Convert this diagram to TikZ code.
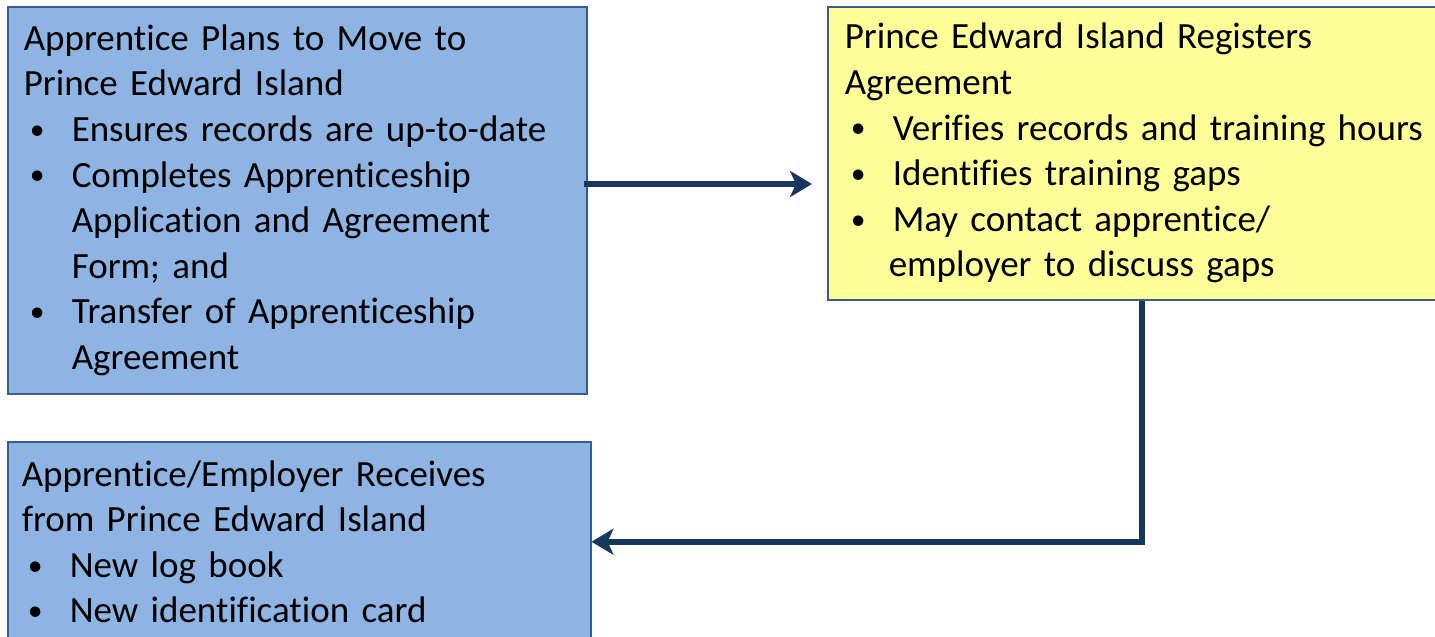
\documentclass[tikz,border=0pt]{standalone}
\usepackage{fontspec}
\usepackage{graphicx}
\setmainfont[Ligatures=NoCommon]{Carlito}
\usetikzlibrary{arrows.meta,positioning,calc}
\definecolor{boxblue}{HTML}{8EB4E3}
\definecolor{boxline}{HTML}{385D8A}
\definecolor{boxyellow}{HTML}{FFFF99}
\definecolor{flowblue}{HTML}{17375E}
\newcommand{\bitem}[1]{\makebox[24pt][l]{\hspace{3pt}\raisebox{1.1pt}{\scalebox{0.8}{\textbullet}}}#1}
\newcommand{\bcont}[2][24pt]{\hspace*{#1}#2}
\tikzset{
  card/.style={draw=boxline, line width=0.75pt, anchor=north west, align=left, inner xsep=8pt, font=\fontsize{18.5}{22.8}\selectfont},
  bluecard/.style={card, fill=boxblue},
  yellowcard/.style={card, fill=boxyellow},
  flow/.style={-{Stealth[length=11pt,width=13pt,inset=3pt]}, line width=2.8pt, flowblue}
}
\begin{document}
\begin{tikzpicture}[x=0.5pt,y=-0.5pt]
  \useasboundingbox (0,0) rectangle (1435,637);
  \clip (0,0) rectangle (1435,637);
  % the three steps
  \node[bluecard, minimum width=289.5pt, minimum height=193.5pt, text width=273.5pt] (plans) at (7,6)
    {Apprentice Plans to Move to\\ Prince Edward Island\\
     \bitem{Ensures records are up-to-date}\\
     \bitem{Completes Apprenticeship}\\ \bcont{Application and Agreement}\\ \bcont{Form; and}\\
     \bitem{Transfer of Apprenticeship}\\ \bcont{Agreement}};
  \node[yellowcard, minimum width=313pt, minimum height=146.5pt, text width=297pt, inner xsep=8.5pt] (register) at (827,6)
    {Prince Edward Island Registers\\ Agreement\\
     \bitem{Verifies records and training hours}\\
     \bitem{Identifies training gaps}\\
     \bitem{May contact apprentice/}\\ \bcont[22pt]{employer to discuss gaps}};
  \node[bluecard, minimum width=291.5pt, minimum height=100pt, text width=277.5pt, inner xsep=7pt] (receives) at (7,441)
    {Apprentice/Employer Receives\\ from Prince Edward Island\\
     \bitem{New log book}\\
     \bitem{New identification card}};
  % flow between them
  \coordinate (link) at (0,184);
  \draw[flow] ([xshift=-2pt]plans.east |- link) -- ([xshift=-7.5pt]register.west |- link);
  \draw[flow] (register.south) |- (receives.east);
\end{tikzpicture}
\end{document}
